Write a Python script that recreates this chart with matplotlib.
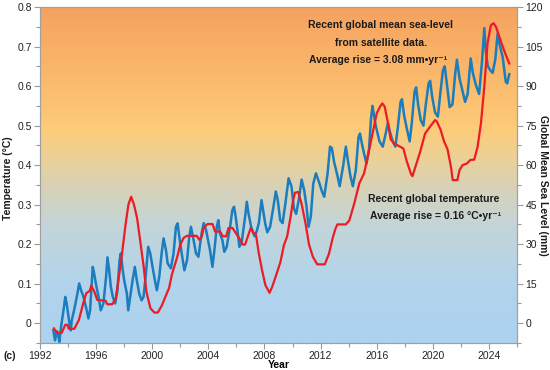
import numpy as np
import matplotlib
matplotlib.use('Agg')
import matplotlib.pyplot as plt
from matplotlib.colors import LinearSegmentedColormap
from matplotlib.ticker import MultipleLocator

plt.rcParams['font.family'] = ['Liberation Sans', 'DejaVu Sans']

# global temperature anomaly (deg C), smoothed - red line, left axis
temp_year = [1992.99, 1993.2, 1993.55, 1993.8, 1993.95, 1994.05, 1994.45, 1994.77, 1995.1, 1995.3,
             1995.55, 1995.65, 1995.85, 1996.08, 1996.67, 1996.8, 1997.15, 1997.4, 1997.75, 1998.1,
             1998.3, 1998.5, 1998.7, 1998.92, 1999.15, 1999.4, 1999.58, 1999.87, 2000.15, 2000.4,
             2000.7, 2000.95, 2001.2, 2001.4, 2001.76, 2002.0, 2002.24, 2002.47, 2003.18, 2003.35,
             2003.54, 2003.66, 2003.94, 2004.3, 2004.48, 2004.84, 2005.03, 2005.27, 2005.44, 2005.72,
             2006.03, 2006.27, 2006.45, 2006.62, 2006.86, 2007.02, 2007.2, 2007.38, 2007.6, 2007.83,
             2008.07, 2008.36, 2008.55, 2008.79, 2009.14, 2009.38, 2009.62, 2009.86, 2010.02, 2010.17,
             2010.4, 2010.64, 2010.93, 2011.17, 2011.45, 2011.76, 2012.3, 2012.6, 2012.88, 2013.07,
             2013.2, 2013.8, 2014.05, 2014.4, 2014.76, 2015.1, 2015.36, 2015.7, 2016.0, 2016.24,
             2016.4, 2016.57, 2016.76, 2017.0, 2017.24, 2017.5, 2017.9, 2018.14, 2018.45, 2018.55,
             2018.8, 2019.1, 2019.45, 2019.8, 2020.16, 2020.29, 2020.55, 2020.8, 2021.05, 2021.29,
             2021.42, 2021.75, 2021.9, 2022.12, 2022.43, 2022.67, 2022.95, 2023.19, 2023.43, 2023.67,
             2023.9, 2024.14, 2024.33, 2024.5, 2024.74, 2024.98, 2025.21, 2025.45]
temp_val = [-0.013, -0.024, -0.024, -0.004, -0.004, -0.014, -0.014, 0.008, 0.053, 0.076,
            0.082, 0.095, 0.082, 0.059, 0.057, 0.048, 0.048, 0.063, 0.148, 0.25,
            0.30, 0.32, 0.30, 0.266, 0.207, 0.14, 0.08, 0.038, 0.027, 0.027,
            0.046, 0.068, 0.089, 0.123, 0.165, 0.199, 0.216, 0.221, 0.221, 0.211,
            0.22, 0.241, 0.251, 0.251, 0.232, 0.232, 0.22, 0.22, 0.241, 0.241,
            0.224, 0.211, 0.199, 0.199, 0.224, 0.241, 0.228, 0.227, 0.176, 0.134,
            0.096, 0.077, 0.092, 0.117, 0.155, 0.197, 0.22, 0.269, 0.307, 0.33,
            0.332, 0.303, 0.252, 0.20, 0.168, 0.149, 0.149, 0.176, 0.218, 0.24,
            0.25, 0.25, 0.26, 0.303, 0.354, 0.379, 0.421, 0.48, 0.531, 0.548,
            0.556, 0.548, 0.514, 0.465, 0.455, 0.45, 0.442, 0.41, 0.377, 0.372,
            0.40, 0.434, 0.48, 0.497, 0.514, 0.51, 0.49, 0.46, 0.44, 0.396,
            0.362, 0.362, 0.387, 0.40, 0.404, 0.413, 0.414, 0.446, 0.506, 0.598,
            0.708, 0.754, 0.759, 0.75, 0.725, 0.70, 0.678, 0.657]

# satellite global mean sea level (mm) - blue line, right axis
sl_year = [1992.95, 1993.07, 1993.2, 1993.3, 1993.38, 1993.5, 1993.71, 1993.8, 1993.9, 1994.0,
           1994.1, 1994.2, 1994.26, 1994.43, 1994.67, 1994.79, 1994.93, 1995.1, 1995.33, 1995.45,
           1995.57, 1995.69, 1995.76, 1995.86, 1995.98, 1996.17, 1996.33, 1996.52, 1996.71, 1996.81,
           1996.93, 1997.05, 1997.19, 1997.36, 1997.52, 1997.67, 1997.76, 1997.9, 1998.0, 1998.19,
           1998.29, 1998.43, 1998.6, 1998.76, 1998.9, 1999.07, 1999.24, 1999.38, 1999.55, 1999.71,
           1999.86, 2000.02, 2000.19, 2000.33, 2000.5, 2000.67, 2000.81, 2000.98, 2001.1, 2001.33,
           2001.52, 2001.69, 2001.81, 2001.93, 2002.1, 2002.29, 2002.48, 2002.64, 2002.76, 2002.95,
           2003.12, 2003.29, 2003.52, 2003.67, 2003.83, 2004.0, 2004.12, 2004.29, 2004.43, 2004.6,
           2004.71, 2004.83, 2005.0, 2005.14, 2005.31, 2005.55, 2005.71, 2005.83, 2005.95, 2006.1,
           2006.21, 2006.38, 2006.62, 2006.74, 2006.86, 2007.05, 2007.29, 2007.45, 2007.6, 2007.79,
           2007.9, 2008.05, 2008.2, 2008.4, 2008.64, 2008.81, 2008.95, 2009.12, 2009.29, 2009.48,
           2009.72, 2009.93, 2010.1, 2010.26, 2010.45, 2010.65, 2010.83, 2011.0, 2011.14, 2011.3,
           2011.48, 2011.67, 2011.86, 2012.1, 2012.26, 2012.5, 2012.67, 2012.8, 2012.97, 2013.2,
           2013.36, 2013.6, 2013.8, 2013.94, 2014.12, 2014.3, 2014.51, 2014.7, 2014.81, 2014.93,
           2015.1, 2015.27, 2015.45, 2015.6, 2015.7, 2015.8, 2015.95, 2016.2, 2016.43, 2016.6,
           2016.8, 2016.95, 2017.14, 2017.33, 2017.5, 2017.7, 2017.8, 2017.95, 2018.14, 2018.35,
           2018.5, 2018.7, 2018.81, 2018.95, 2019.14, 2019.33, 2019.5, 2019.7, 2019.81, 2019.95,
           2020.16, 2020.36, 2020.55, 2020.72, 2020.85, 2021.0, 2021.2, 2021.4, 2021.6, 2021.72,
           2021.9, 2022.12, 2022.3, 2022.48, 2022.7, 2022.85, 2023.07, 2023.3, 2023.5, 2023.67,
           2023.78, 2023.92, 2024.1, 2024.26, 2024.45, 2024.62, 2024.75, 2024.98, 2025.2, 2025.3,
           2025.45]
sl_val = [-2.7, -6.5, -3, -4.6, -7.1, -1.4, 6.2, 10, 7.5, 3.7,
          -0.1, -2.7, 1.1, 4.9, 11.3, 15.1, 12.5, 10, 4.9, 1.8,
          4.9, 15.1, 21.4, 18.9, 15.1, 10, 4.9, 7.5, 17.6, 25,
          20.1, 13.8, 10, 7.5, 12.5, 23.9, 26.5, 20.1, 16.3, 11.3,
          4.9, 10, 16.3, 21.4, 16.3, 11.3, 8.7, 10, 18.9, 29,
          26.5, 21.4, 16.3, 12.5, 17.6, 26.5, 32.2, 27.7, 22.7, 20.8,
          26.5, 36.6, 37.9, 32.8, 26.5, 20.1, 23.9, 32.8, 36.6, 31.5,
          26.5, 25.2, 34.1, 38, 35.5, 31, 27.7, 21.4, 27.7, 36.6,
          39.1, 34.1, 31.5, 27.1, 29, 36.6, 42.9, 44.2, 40.4, 34.1,
          29, 30.9, 40.4, 46.1, 41.7, 36.6, 33, 35, 38, 46.7,
          43, 37.9, 34.5, 36.6, 44.2, 50, 46.7, 39.1, 38, 45,
          55, 51.8, 43.5, 41.5, 47, 54.5, 50.5, 44.2, 36.6, 40.4,
          53, 56.9, 54, 50, 48, 56.9, 67, 66.5, 61, 56,
          52, 59.4, 67, 62, 56, 52, 58, 70.5, 72, 68.5,
          64.4, 60.5, 66, 78, 82.5, 79, 74.5, 69, 67, 71,
          76, 72.5, 69, 67, 74, 84, 85, 79, 74, 69,
          76, 88, 89.5, 83, 77, 75, 83, 91, 92, 86,
          80, 78.4, 88, 96, 97.5, 91, 82, 83, 95, 100,
          93, 88, 84, 87, 100.5, 95, 90.4, 87, 99, 112,
          103, 97.5, 96, 95, 100, 110, 106, 101, 91.6, 91,
          94.5]

year_ticks = [1992, 1996, 2000, 2004, 2008, 2012, 2016, 2020, 2024]

fig = plt.figure(figsize=(5.5, 3.7), dpi=100)
ax = fig.add_axes([40 / 550, 1 - 343 / 370, 477 / 550, 336 / 370])
ax2 = ax.twinx()
ax.set_zorder(2)
ax2.set_zorder(1)
ax.patch.set_visible(False)

# background gradient (blue at bottom -> orange at top)
grad_cmap = LinearSegmentedColormap.from_list('bg', [
    (0.0, '#acd2f0'), (0.18, '#b2d4eb'), (0.35, '#c4d5d8'), (0.47, '#d9d2b4'),
    (0.55, '#ecd196'), (0.64, '#fecb78'), (0.76, '#fbbc6e'), (0.88, '#f8af66'), (1.0, '#f5a25f')])
grad = np.linspace(0, 1, 256).reshape(-1, 1)
ax2.imshow(grad, cmap=grad_cmap, origin='lower', aspect='auto',
           extent=(1992, 2026, -7.5, 120), zorder=0)

ax2.plot(sl_year, sl_val, color='#1b7dbd', lw=1.8, solid_joinstyle='round', zorder=2)
ax.plot(temp_year, temp_val, color='#ec1c24', lw=1.6, solid_joinstyle='round', zorder=3)

ax.set_xlim(1992, 2026)
ax.set_ylim(-0.05, 0.8)
ax2.set_ylim(-7.5, 120)

ax.set_xticks(year_ticks)
ax.xaxis.set_minor_locator(MultipleLocator(2))
ax.set_yticks(np.arange(0, 0.81, 0.1))
ax.set_yticklabels(['0', '0.1', '0.2', '0.3', '0.4', '0.5', '0.6', '0.7', '0.8'])
ax.yaxis.set_minor_locator(MultipleLocator(0.05))
ax2.set_yticks(np.arange(0, 121, 15))
ax2.yaxis.set_minor_locator(MultipleLocator(7.5))

for a in (ax, ax2):
    a.tick_params(which='both', color='#9a9a9a', labelsize=7.5, labelcolor='#222222', width=0.8)
    a.tick_params(which='major', length=4, pad=2)
    a.tick_params(which='minor', length=3)
    for s in a.spines.values():
        s.set_color('#a0a0a0')
        s.set_linewidth(0.8)

txt = dict(fontsize=7.5, fontweight='bold', color='#1a1a1a', ha='center', va='center')
ax.set_xlabel('Year', fontsize=7.5, fontweight='bold', labelpad=-1)
fig.text(8 / 550, 1 - 178 / 370, 'Temperature (°C)', rotation=90, **txt)
fig.text(543 / 550, 1 - 185 / 370, 'Global Mean Sea Level (mm)', rotation=270, **txt)

fig.text(381 / 550, 1 - 25 / 370, 'Recent global mean sea-level', **txt)
fig.text(381 / 550, 1 - 43 / 370, 'from satellite data.', **txt)
fig.text(378 / 550, 1 - 60 / 370, 'Average rise = 3.08 mm\u2022yr\u207b\u00b9', **txt)
fig.text(434 / 550, 1 - 199 / 370, 'Recent global temperature', **txt)
fig.text(436 / 550, 1 - 216 / 370, 'Average rise = 0.16 \u00b0C\u2022yr\u207b\u00b9', **txt)
fig.text(10 / 550, 1 - 356 / 370, '(c)', **txt)

fig.savefig('out.png', dpi=100)
